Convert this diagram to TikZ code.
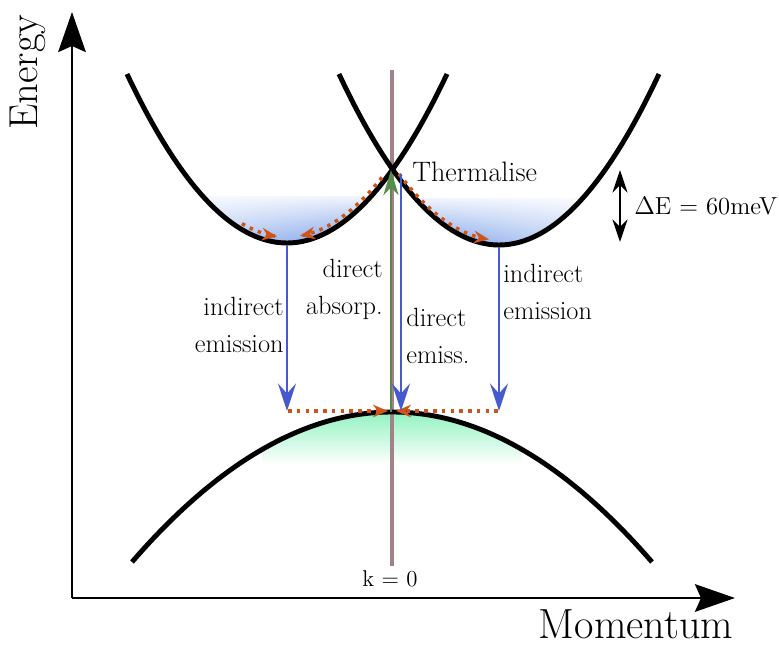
\documentclass[tikz,border=0pt]{standalone}
\usepackage{xcolor}
\usepackage{tikz}
\usetikzlibrary{arrows.meta,fadings}

\definecolor{kgray}{RGB}{160,130,136}
\definecolor{emitblue}{RGB}{70,90,205}
\definecolor{absgreen}{RGB}{85,140,75}
\definecolor{thermorange}{RGB}{205,85,25}
\definecolor{cbblue}{RGB}{95,140,228}
\definecolor{vbgreen}{RGB}{140,242,190}

\tikzfading[name=fadein, left color=transparent!60, right color=transparent!0]
\tikzfading[name=fadeout, left color=transparent!0, right color=transparent!60]

\begin{document}
\begin{tikzpicture}[x=0.02cm, y=-0.02cm, >=Stealth,
    band/.style={line width=2.8pt},
    axis/.style={line width=1.7pt, -{Stealth[length=0.8cm,width=0.55cm,inset=0.12cm]}},
    emit/.style={emitblue, line width=1.5pt, -{Stealth[length=0.55cm,width=0.36cm,inset=0.2cm]}},
    therm/.style={thermorange, line width=2pt, dash pattern=on 2pt off 3pt, -{Stealth[length=0.3cm,width=0.25cm]}},
    lbl/.style={font=\fontsize{15}{21}\selectfont, inner sep=0pt}]
    \useasboundingbox (0,0) rectangle (779,646);

    % Axes
    \coordinate (origin) at (72,598);
    \coordinate (ytop) at (72,12);
    \coordinate (xend) at (735,598);
    \draw[axis] (origin) -- (ytop);
    \draw[axis] (origin) -- (xend);
    \node[rotate=90, font=\fontsize{23}{23}\selectfont] (energy) at (28,72) {Energy};
    \node[font=\fontsize{24}{24}\selectfont] (momentum) at (636,624) {Momentum};

    % Band points (parabolas as cubic curves)
    \coordinate (cbLa) at (127,74);
    \coordinate (cbLc1) at (233.67,299.33);
    \coordinate (cbLc2) at (340.33,299.33);
    \coordinate (cbLb) at (447,74);
    \coordinate (cbRa) at (339,74);
    \coordinate (cbRc1) at (445.67,302);
    \coordinate (cbRc2) at (552.33,302);
    \coordinate (cbRb) at (659,74);
    \coordinate (vba) at (132,562);
    \coordinate (vbc1) at (305.33,362);
    \coordinate (vbc2) at (478.67,362);
    \coordinate (vbb) at (652,562);

    % Electrons and holes
    \begin{scope}
        \clip (cbLa) .. controls (cbLc1) and (cbLc2) .. (cbLb) -- cycle;
        \shade[top color=cbblue!12, bottom color=cbblue, path fading=fadein] (190,197) rectangle (395,247);
    \end{scope}
    \begin{scope}
        \clip (cbRa) .. controls (cbRc1) and (cbRc2) .. (cbRb) -- cycle;
        \shade[top color=cbblue!12, bottom color=cbblue, path fading=fadeout] (392,199) rectangle (575,249);
    \end{scope}
    \begin{scope}
        \clip (vba) .. controls (vbc1) and (vbc2) .. (vbb) -- cycle;
        \shade[top color=vbgreen, bottom color=white] (262,410) rectangle (522,464);
    \end{scope}

    % k = 0
    \coordinate (ktop) at (392,70);
    \coordinate (kbot) at (392,566);
    \draw[kgray, line width=2.8pt] (ktop) -- (kbot);
    \node[font=\fontsize{13}{13}\selectfont] (klabel) at (390,579) {k = 0};

    % Bands
    \draw[band] (cbLa) .. controls (cbLc1) and (cbLc2) .. (cbLb);
    \draw[band] (cbRa) .. controls (cbRc1) and (cbRc2) .. (cbRb);
    \draw[band] (vba) .. controls (vbc1) and (vbc2) .. (vbb);

    % Thermalise
    \draw[therm] plot[domain=-0.45:-0.1, samples=20] ({287+100*\x},{237-66*\x*\x});
    \draw[therm] plot[domain=0.95:0.13, samples=30] ({287+100*\x},{237-66*\x*\x});
    \draw[therm] plot[domain=-1.0:-0.1, samples=30] ({499+100*\x},{240-66*\x*\x});
    \coordinate (vbL) at (288,411);
    \coordinate (vbR) at (498,411);
    \coordinate (vbMl) at (388,411);
    \coordinate (vbMr) at (396,411);
    \draw[therm] (vbL) -- (vbMl);
    \draw[therm] (vbR) -- (vbMr);

    % Transitions
    \coordinate (cbLmin) at (287,245);
    \coordinate (cbX) at (401,174);
    \coordinate (cbRmin) at (499,247);
    \coordinate (vbtipL) at (287,411);
    \coordinate (vbtipM) at (401,411);
    \coordinate (vbtipR) at (499,411);
    \coordinate (absbot) at (391,412);
    \coordinate (abstop) at (391,170);
    \draw[absgreen, line width=1.5pt, -{Stealth[length=0.5cm,width=0.3cm,inset=0.15cm]}] (absbot) -- (abstop);
    \draw[emit] (cbLmin) -- (vbtipL);
    \draw[emit] (cbX) -- (vbtipM);
    \draw[emit] (cbRmin) -- (vbtipR);

    % Labels
    \node[lbl, anchor=east, align=right] (lblindl) at (284,325) {indirect\\emission};
    \node[lbl, anchor=east, align=right] (lblabs) at (383,289) {direct\\absorp.};
    \node[lbl, anchor=west, align=left] (lbldirem) at (406,336) {direct\\emiss.};
    \node[lbl, anchor=west, align=left] (lblindr) at (503,292) {indirect\\emission};
    \node[lbl, anchor=west, font=\fontsize{16}{21}\selectfont] (lbltherm) at (412,172) {Thermalise};

    % Delta E
    \coordinate (detop) at (620,170);
    \coordinate (debot) at (620,242);
    \draw[line width=1.5pt, {Stealth[length=0.45cm,width=0.3cm]}-{Stealth[length=0.45cm,width=0.3cm]}] (detop) -- (debot);
    \node[lbl, anchor=west, font=\fontsize{14}{21}\selectfont] (lblde) at (634,206) {$\Delta$E = 60meV};
\end{tikzpicture}
\end{document}
